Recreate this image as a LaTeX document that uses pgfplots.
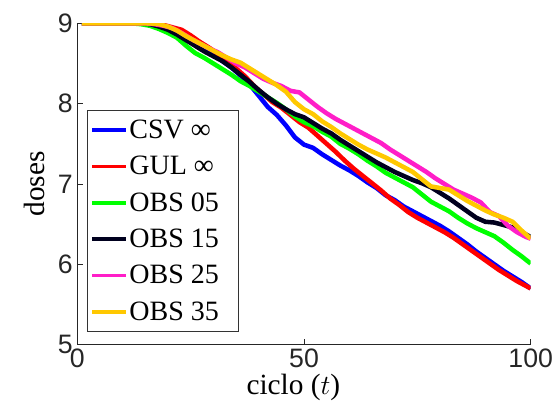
\documentclass[border=0pt]{standalone}
\usepackage{pgfplots}
\pgfplotsset{compat=1.18}
\usepackage{fontspec}
\setmainfont{Liberation Serif}
\newfontfamily\ticksans{Liberation Sans}
\definecolor{cBlue}{RGB}{0,0,255}
\definecolor{cRed}{RGB}{255,0,0}
\definecolor{cGreen}{RGB}{0,255,0}
\definecolor{cBlack}{RGB}{0,0,30}
\definecolor{cMag}{RGB}{255,30,200}
\definecolor{cYel}{RGB}{255,200,0}
\definecolor{axgray}{RGB}{38,38,38}
\begin{document}
\begin{tikzpicture}
\useasboundingbox (-58pt,-49pt) rectangle (356pt,258.5pt);
\begin{axis}[
  at={(0,0)}, anchor=south west,
  scale only axis,
  width=340pt, height=241pt,
  xmin=0, xmax=100, ymin=5, ymax=9,
  xtick={0,50,100}, ytick={5,6,7,8,9},
  axis x line=bottom, axis y line=left,
  axis line style={-, draw=axgray, line width=0.6pt},
  tick align=inside, major tick length=4pt,
  tick style={draw=axgray, line width=0.6pt},
  /pgf/number format/assume math mode=true,
  tick label style={font=\ticksans\fontsize{20}{24}\selectfont, text=axgray},
  xlabel={ciclo ($t$)}, ylabel={doses},
  label style={font=\fontsize{22}{26}\selectfont},
  xlabel style={at={(axis description cs:0.5,0)}, anchor=north, inner sep=0pt, yshift=-22pt, xshift=-8pt},
  ylabel style={at={(axis description cs:0,0.5)}, anchor=south, inner sep=0pt, yshift=24pt},
  legend cell align=left,
  legend style={at={(0.022,0.73)}, anchor=north west, draw=black!80, line width=0.5pt,
    font=\fontsize{21}{25}\selectfont, inner xsep=2pt, inner ysep=7.2pt, row sep=11.8pt,
    nodes={inner xsep=1.5pt, inner ysep=0pt}},
  legend image code/.code={\draw[line width=2.8pt] (0pt,0pt) -- (25pt,0pt);},
  every axis plot/.append style={line width=3.4pt, line join=round},
]
\addplot[cBlue] coordinates {(1,9) (14,9) (16,8.99) (18,8.97) (20,8.94) (22,8.88) (24,8.82) (26,8.76) (28,8.70) (30,8.62) (32,8.53) (34,8.45) (36,8.35) (38,8.24) (40,8.10) (42,7.96) (44,7.86) (46,7.73) (48,7.58) (50,7.49) (52,7.45) (54,7.37) (56,7.30) (58,7.23) (60,7.17) (62,7.10) (64,7.02) (66,6.95) (68,6.86) (70,6.80) (72,6.72) (74,6.66) (76,6.60) (78,6.54) (80,6.48) (82,6.41) (84,6.33) (86,6.25) (88,6.16) (90,6.08) (92,6.00) (94,5.92) (96,5.85) (98,5.78) (100,5.70)};
\addlegendentry{CSV ∞}
\addplot[cRed] coordinates {(1,9) (17,9) (19,8.98) (21,8.95) (23,8.92) (25,8.85) (27,8.77) (29,8.70) (31,8.62) (33,8.53) (35,8.44) (37,8.34) (39,8.22) (41,8.12) (43,8.02) (45,7.95) (47,7.86) (49,7.77) (51,7.70) (53,7.60) (55,7.50) (57,7.40) (59,7.29) (61,7.19) (63,7.10) (65,7.01) (67,6.92) (69,6.82) (71,6.74) (73,6.65) (75,6.58) (77,6.52) (79,6.46) (81,6.40) (83,6.33) (85,6.25) (87,6.17) (89,6.09) (91,6.01) (93,5.93) (95,5.86) (97,5.79) (99,5.73) (100,5.70)};
\addlegendentry{GUL ∞}
\addplot[cGreen] coordinates {(1,9) (12,9) (14,8.99) (16,8.97) (18,8.93) (20,8.88) (22,8.82) (24,8.72) (26,8.63) (28,8.57) (30,8.50) (32,8.43) (34,8.36) (36,8.28) (38,8.22) (40,8.15) (42,8.08) (44,8.01) (46,7.93) (48,7.84) (50,7.77) (52,7.72) (54,7.65) (56,7.59) (58,7.50) (60,7.44) (62,7.37) (64,7.29) (66,7.22) (68,7.14) (70,7.08) (72,7.02) (74,6.96) (76,6.87) (78,6.78) (80,6.72) (82,6.66) (84,6.58) (86,6.51) (88,6.45) (90,6.40) (92,6.35) (94,6.27) (96,6.18) (98,6.10) (100,6.01)};
\addlegendentry{OBS 05\hspace*{11pt}}
\addplot[cBlack] coordinates {(1,9) (14,9) (16,8.99) (18,8.96) (20,8.92) (22,8.86) (24,8.79) (26,8.72) (28,8.65) (30,8.59) (32,8.53) (34,8.45) (36,8.36) (38,8.27) (40,8.17) (42,8.08) (44,8.00) (46,7.93) (48,7.87) (50,7.83) (52,7.76) (54,7.69) (56,7.63) (58,7.55) (60,7.48) (62,7.41) (64,7.34) (66,7.27) (68,7.21) (70,7.15) (72,7.10) (74,7.05) (76,7.01) (78,6.96) (80,6.89) (82,6.82) (84,6.74) (86,6.66) (88,6.58) (90,6.53) (92,6.52) (94,6.49) (96,6.46) (98,6.40) (100,6.34)};
\addlegendentry{OBS 15}
\addplot[cMag] coordinates {(1,9) (15,9) (17,8.99) (19,8.97) (21,8.94) (23,8.88) (25,8.81) (27,8.75) (29,8.69) (31,8.64) (33,8.57) (35,8.50) (37,8.45) (39,8.38) (41,8.31) (43,8.26) (45,8.22) (47,8.16) (49,8.14) (51,8.05) (53,7.96) (55,7.88) (57,7.81) (59,7.75) (61,7.69) (63,7.63) (65,7.57) (67,7.51) (69,7.43) (71,7.36) (73,7.29) (75,7.22) (77,7.15) (79,7.07) (81,7.00) (83,6.93) (85,6.88) (87,6.83) (89,6.77) (91,6.65) (93,6.60) (95,6.48) (97,6.40) (99,6.34) (100,6.32)};
\addlegendentry{OBS 25}
\addplot[cYel] coordinates {(1,9) (16,9) (18,8.99) (20,8.96) (22,8.91) (24,8.84) (26,8.78) (28,8.72) (30,8.66) (32,8.60) (34,8.55) (36,8.51) (38,8.44) (40,8.37) (42,8.30) (44,8.23) (46,8.15) (48,8.02) (50,7.93) (52,7.87) (54,7.78) (56,7.71) (58,7.63) (60,7.56) (62,7.49) (64,7.43) (66,7.38) (68,7.33) (70,7.27) (72,7.21) (74,7.15) (76,7.06) (78,6.97) (80,6.95) (82,6.93) (84,6.86) (86,6.79) (88,6.73) (90,6.67) (92,6.62) (94,6.58) (96,6.53) (98,6.42) (100,6.32)};
\addlegendentry{OBS 35}
\end{axis}
\end{tikzpicture}
\end{document}
